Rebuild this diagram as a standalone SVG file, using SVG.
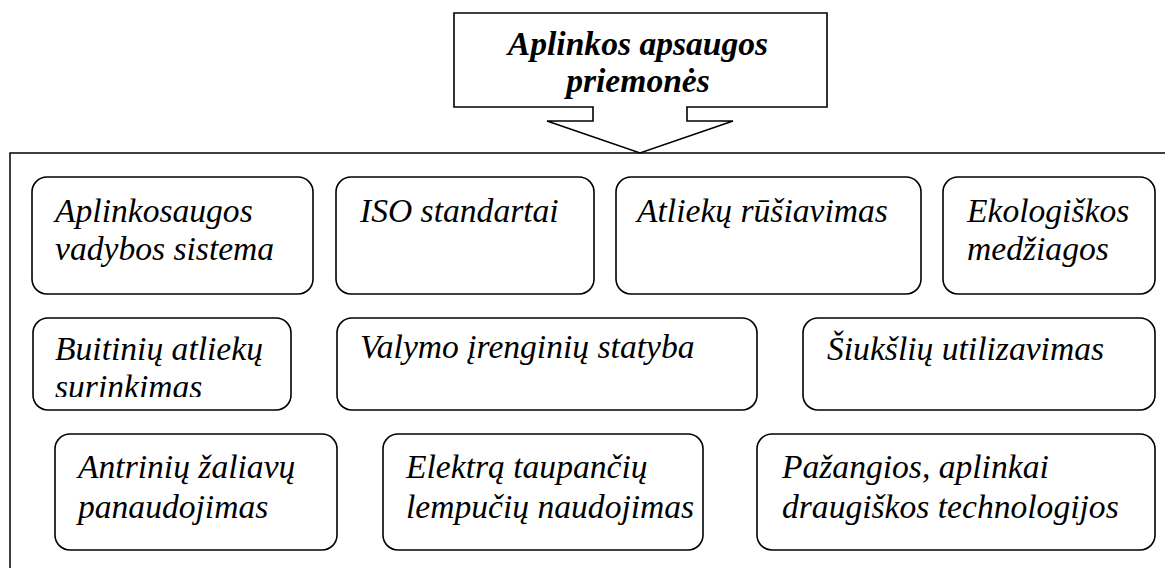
<svg xmlns="http://www.w3.org/2000/svg" width="1165" height="568" viewBox="0 0 1165 568">
  <style>
    .box { fill: #fff; stroke: #000; stroke-width: 1.6; }
    .frame { fill: none; stroke: #000; stroke-width: 1.5; }
    text { font-family: "Liberation Serif", "Times New Roman", serif; fill: #000; }
    .item { font-style: italic; font-size: 33.6px; }
    .title { font-style: italic; font-weight: bold; font-size: 33.6px; text-anchor: middle; }
  </style>
  <defs>
    <clipPath id="clip-buitiniu">
      <rect x="32" y="317" width="260" height="80"/>
    </clipPath>
  </defs>

  <rect width="1165" height="568" fill="#fff"/>

  <!-- outer frame: top rule and left side -->
  <g id="frame">
    <path class="frame" d="M10,568 V153 H1165"/>
  </g>

  <!-- heading callout with downward arrow -->
  <g id="connectors">
    <polygon class="box" points="454,13 827,13 827,107 687,107 687,121 733,121 640,153 547,121 593,121 593,107 454,107"/>
  </g>
  <g id="title">
    <text class="title" x="638" y="55">Aplinkos apsaugos</text>
    <text class="title" x="638" y="92">priemonės</text>
  </g>

  <!-- row 1 -->
  <g id="n-vadybos">
    <rect class="box" x="32" y="177" width="281" height="117" rx="15"/>
    <text class="item" x="55" y="222">Aplinkosaugos</text>
    <text class="item" x="55" y="260">vadybos sistema</text>
  </g>
  <g id="n-iso">
    <rect class="box" x="336" y="177" width="258" height="117" rx="15"/>
    <text class="item" x="360" y="222">ISO standartai</text>
  </g>
  <g id="n-rusiavimas">
    <rect class="box" x="616" y="177" width="305" height="117" rx="15"/>
    <text class="item" x="637" y="222">Atliekų rūšiavimas</text>
  </g>
  <g id="n-medziagos">
    <rect class="box" x="943" y="177" width="212" height="117" rx="15"/>
    <text class="item" x="967" y="222">Ekologiškos</text>
    <text class="item" x="967" y="260">medžiagos</text>
  </g>

  <!-- row 2 -->
  <g id="n-surinkimas">
    <rect class="box" x="33" y="318" width="258" height="92" rx="15"/>
    <g clip-path="url(#clip-buitiniu)">
      <text class="item" x="55" y="360">Buitinių atliekų</text>
      <text class="item" x="55" y="398">surinkimas</text>
    </g>
  </g>
  <g id="n-valymo">
    <rect class="box" x="337" y="318" width="420" height="92" rx="15"/>
    <text class="item" x="360" y="358">Valymo įrenginių statyba</text>
  </g>
  <g id="n-siuksliu">
    <rect class="box" x="803" y="318" width="352" height="92" rx="15"/>
    <text class="item" x="827" y="360">Šiukšlių utilizavimas</text>
  </g>

  <!-- row 3 -->
  <g id="n-antriniu">
    <rect class="box" x="55" y="434" width="282" height="116" rx="15"/>
    <text class="item" x="78" y="478">Antrinių žaliavų</text>
    <text class="item" x="78" y="518">panaudojimas</text>
  </g>
  <g id="n-lempuciu">
    <rect class="box" x="383" y="434" width="320" height="116" rx="15"/>
    <text class="item" x="406" y="478">Elektrą taupančių</text>
    <text class="item" x="406" y="518">lempučių naudojimas</text>
  </g>
  <g id="n-technologijos">
    <rect class="box" x="757" y="434" width="398" height="116" rx="15"/>
    <text class="item" x="782" y="478">Pažangios, aplinkai</text>
    <text class="item" x="782" y="518">draugiškos technologijos</text>
  </g>
</svg>
